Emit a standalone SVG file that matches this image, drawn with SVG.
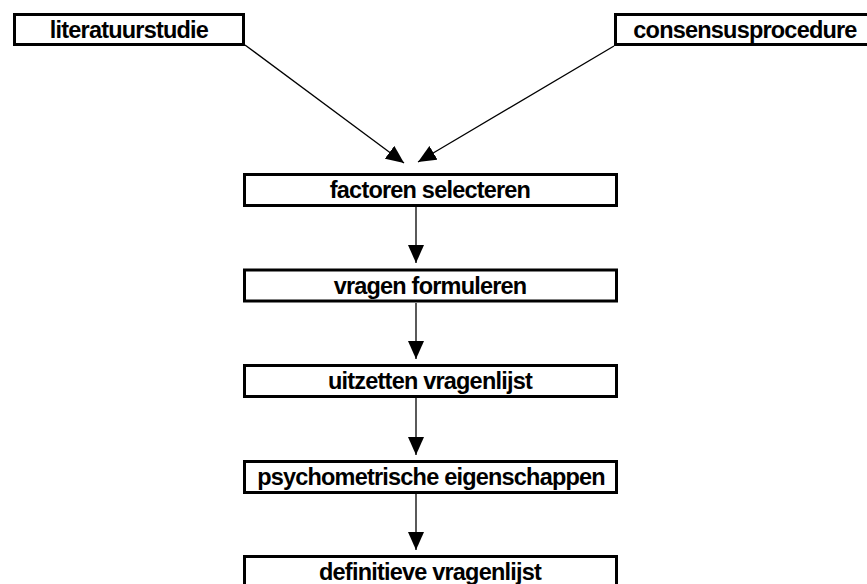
<svg xmlns="http://www.w3.org/2000/svg" width="867" height="584" viewBox="0 0 867 584">
<defs>
<style>
.box{fill:#fff;stroke:#000;stroke-width:3}
.lbl{font-family:"Liberation Sans",Arial,sans-serif;font-weight:bold;font-size:23.5px;fill:#000;text-anchor:middle;letter-spacing:-0.8px}
.edge{stroke:#000;stroke-width:1.3;fill:none;marker-end:url(#ah)}
</style>
<marker id="ah" viewBox="0 0 18 16" refX="18" refY="8" markerWidth="18" markerHeight="16" markerUnits="userSpaceOnUse" orient="auto">
<path d="M0,0 L18,8 L0,16 Z" fill="#000"/>
</marker>
</defs>
<rect width="867" height="584" fill="#fff"/>
<g id="connectors">
<line class="edge" x1="245" y1="45" x2="404" y2="163"/>
<line class="edge" x1="614" y1="46" x2="418" y2="162"/>
<line class="edge" x1="416" y1="207" x2="416" y2="263"/>
<line class="edge" x1="416" y1="303" x2="416" y2="359"/>
<line class="edge" x1="416" y1="397" x2="416" y2="455"/>
<line class="edge" x1="416" y1="493" x2="416" y2="550"/>
</g>
<g id="n1"><rect class="box" x="14.5" y="14.5" width="229" height="30"/><text class="lbl" x="129" y="37.5">literatuurstudie</text></g>
<g id="n2"><rect class="box" x="615.5" y="14.5" width="260" height="30"/><text class="lbl" x="745" y="37.5">consensusprocedure</text></g>
<g id="n3"><rect class="box" x="244.5" y="174.5" width="372" height="31"/><text class="lbl" x="430" y="197.5">factoren selecteren</text></g>
<g id="n4"><rect class="box" x="244.5" y="270" width="372" height="31"/><text class="lbl" x="430" y="293.5">vragen formuleren</text></g>
<g id="n5"><rect class="box" x="244.5" y="365.5" width="372" height="31"/><text class="lbl" x="430" y="388.5">uitzetten vragenlijst</text></g>
<g id="n6"><rect class="box" x="244.5" y="461.5" width="372" height="31"/><text class="lbl" x="431" y="485">psychometrische eigenschappen</text></g>
<g id="n7"><rect class="box" x="244.5" y="556.5" width="372" height="40"/><text class="lbl" x="430" y="580">definitieve vragenlijst</text></g>
</svg>
